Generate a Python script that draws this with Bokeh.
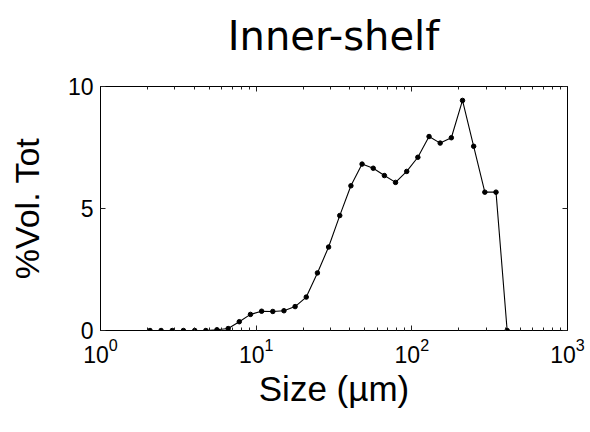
from bokeh.plotting import figure
from bokeh.layouts import column
from bokeh.models import (LogAxis, LinearAxis, FixedTicker, LogTickFormatter,
                          BasicTickFormatter, Range1d, LogScale, Div)
from bokeh.embed import file_html
from bokeh.resources import INLINE

# Grain-size classes (µm) and volume percentage per class
size_um = [2.08, 2.45, 2.89, 3.41, 4.03, 4.75, 5.60, 6.61, 7.79, 9.19,
           10.84, 12.79, 15.08, 17.79, 20.98, 24.75, 29.19, 34.43, 40.61, 47.90,
           56.49, 66.63, 78.59, 92.70, 109.3, 129.0, 152.1, 179.4, 211.6, 249.6,
           294.4, 347.3, 409.6]
vol_pct = [0.0, 0.0, 0.0, 0.0, 0.0, 0.0, 0.03, 0.08, 0.36, 0.66,
           0.79, 0.78, 0.81, 0.98, 1.37, 2.36, 3.42, 4.71, 5.93, 6.82,
           6.65, 6.35, 6.07, 6.52, 7.10, 7.95, 7.68, 7.90, 9.43, 7.55,
           5.67, 5.67, 0.0]

x_major = [1, 10, 100, 1000]
x_minor = [m * d for d in (1, 10, 100) for m in range(2, 10)]
y_major = [0, 5, 10]

TITLE_H = 60

# Title strip, centred over the axes box
title = Div(text="Inner-shelf", width=590, height=TITLE_H, margin=(0, 0, 0, 0),
            styles={"font-family": "DejaVu Sans", "font-size": "40px",
                    "line-height": "40px", "color": "black",
                    "text-align": "center", "padding-top": "16px",
                    "padding-left": "77px", "box-sizing": "border-box",
                    "width": "590px", "white-space": "nowrap"})

p = figure(width=590, height=432 - TITLE_H, x_axis_type=None, y_axis_type=None,
           x_range=Range1d(1, 1000), y_range=Range1d(0, 10),
           output_backend="svg", toolbar_location=None,
           min_border_left=100, min_border_right=23,
           min_border_top=86 - TITLE_H, min_border_bottom=102)
p.x_scale = LogScale()

p.grid.visible = False
p.outline_line_color = "black"
p.outline_line_width = 1
p.background_fill_color = "white"
p.border_fill_color = "white"

tick_col = "#222222"


def style_axis(ax, show_labels):
    ax.axis_line_color = "black"
    ax.major_tick_in = 5
    ax.major_tick_out = 0
    ax.minor_tick_in = 3
    ax.minor_tick_out = 0
    ax.major_tick_line_color = tick_col
    ax.minor_tick_line_color = tick_col
    ax.major_label_text_font = "Liberation Sans"
    if show_labels:
        ax.major_label_text_color = "black"
        ax.major_label_text_font_size = "23px"
        ax.major_label_standoff = 7
    else:
        ax.major_label_text_alpha = 0
        ax.major_label_text_font_size = "1px"
        ax.major_label_standoff = 0


def style_label(ax, text, size, standoff):
    ax.axis_label = text
    ax.axis_label_text_font = "Liberation Sans"
    ax.axis_label_text_font_size = size
    ax.axis_label_text_font_style = "normal"
    ax.axis_label_text_color = "black"
    ax.axis_label_standoff = standoff


xb = LogAxis(ticker=FixedTicker(ticks=x_major, minor_ticks=x_minor),
             formatter=LogTickFormatter())
style_axis(xb, True)
style_label(xb, "Size (µm)", "35px", 3)
p.add_layout(xb, "below")

xt = LinearAxis(ticker=FixedTicker(ticks=x_major, minor_ticks=x_minor),
                formatter=BasicTickFormatter())
style_axis(xt, False)
p.add_layout(xt, "above")

yl = LinearAxis(ticker=FixedTicker(ticks=y_major, minor_ticks=[]))
style_axis(yl, True)
style_label(yl, "%Vol. Tot", "34px", 19)
p.add_layout(yl, "left")

yr = LinearAxis(ticker=FixedTicker(ticks=y_major, minor_ticks=[]))
style_axis(yr, False)
p.add_layout(yr, "right")

p.line(size_um, vol_pct, line_color="black", line_width=1.1)
p.scatter(size_um, vol_pct, size=4.5, fill_color="black", line_color="black")

layout = column(title, p, spacing=0)
open("out.html", "w").write(file_html(layout, INLINE))
